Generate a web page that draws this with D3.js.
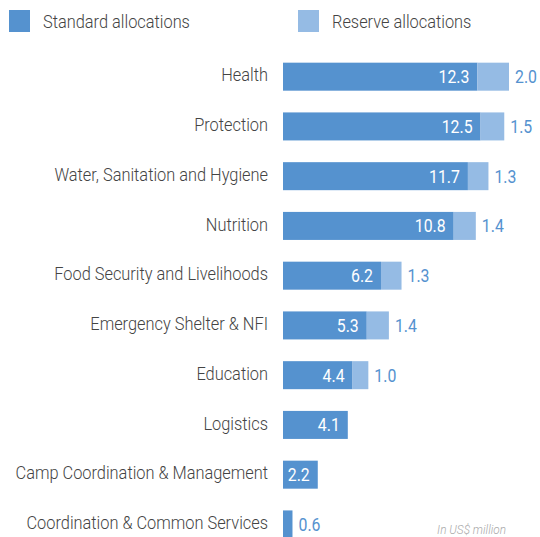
<!DOCTYPE html>
<html>
<head>
<meta charset="utf-8">
<script src="https://cdn.jsdelivr.net/npm/d3@7"></script>
<style>
  body { margin: 0; background: #fff; }
  text { font-family: Roboto, sans-serif; font-weight: 300; }
  text.val { font-weight: 400; }
</style>
</head>
<body>
<script>
// values in US$ million
const categories = [
  "Health",
  "Protection",
  "Water, Sanitation and Hygiene",
  "Nutrition",
  "Food Security and Livelihoods",
  "Emergency Shelter & NFI",
  "Education",
  "Logistics",
  "Camp Coordination & Management",
  "Coordination & Common Services"
];
const standard = [12.3, 12.5, 11.7, 10.8, 6.2, 5.3, 4.4, 4.1, 2.2, 0.6];
const reserve = [2.0, 1.5, 1.3, 1.4, 1.3, 1.4, 1.0, 0, 0, 0];
const seriesNames = ["Standard allocations", "Reserve allocations"];

const width = 540, height = 537;
const blue = "#5592cf", lightBlue = "#95bbe4", grey = "#444";
const squeeze = 0.91; // Roboto squeezed to look condensed

const data = categories.map((c, i) => ({ cat: c, std: standard[i], res: reserve[i] }));

const svg = d3.select("body").append("svg")
  .attr("width", width)
  .attr("height", height);

const x = d3.scaleLinear()
  .domain([0, 14.3])
  .range([283, 509]);

const y = d3.scaleBand()
  .domain(categories)
  .range([51.8, 549.3])
  .paddingInner(0.437)
  .paddingOuter(0.2185);

const at = (tx, ty, k = squeeze) => `translate(${tx},${ty}) scale(${k},1)`;
const mid = d => y(d.cat) + y.bandwidth() / 2;

// legend
const legend = svg.append("g");
const legendX = [9, 298];
seriesNames.forEach((name, i) => {
  legend.append("rect")
    .attr("x", legendX[i])
    .attr("y", 10)
    .attr("width", 21)
    .attr("height", 22)
    .attr("fill", i === 0 ? blue : lightBlue);
  legend.append("text")
    .attr("transform", at(legendX[i] + 34, 28))
    .attr("font-size", 18)
    .attr("fill", grey)
    .text(name);
});

// category labels
svg.append("g").selectAll("text")
  .data(data)
  .join("text")
  .attr("transform", d => at(268, mid(d) - 1.5))
  .attr("dy", "0.35em")
  .attr("text-anchor", "end")
  .attr("font-size", 18)
  .attr("fill", grey)
  .text(d => d.cat);

// standard bars
svg.append("g").selectAll("rect")
  .data(data)
  .join("rect")
  .attr("x", x(0))
  .attr("y", d => y(d.cat))
  .attr("width", d => x(d.std) - x(0))
  .attr("height", y.bandwidth())
  .attr("fill", blue);

// reserve bars
svg.append("g").selectAll("rect")
  .data(data.filter(d => d.res > 0))
  .join("rect")
  .attr("x", d => x(d.std))
  .attr("y", d => y(d.cat))
  .attr("width", d => x(d.std + d.res) - x(d.std))
  .attr("height", y.bandwidth())
  .attr("fill", lightBlue);

// standard value labels (inside bar, or outside when the bar is tiny)
svg.append("g").selectAll("text")
  .data(data)
  .join("text")
  .attr("class", "val")
  .attr("transform", d => at(d.std < 1 ? x(d.std) + 6 : x(d.std) - 8, mid(d), 0.88))
  .attr("dy", "0.36em")
  .attr("text-anchor", d => d.std < 1 ? "start" : "end")
  .attr("font-size", 18)
  .attr("fill", d => d.std < 1 ? blue : "#fff")
  .text(d => d.std.toFixed(1));

// reserve value labels
svg.append("g").selectAll("text")
  .data(data.filter(d => d.res > 0))
  .join("text")
  .attr("class", "val")
  .attr("transform", d => at(x(d.std + d.res) + 6, mid(d), 0.88))
  .attr("dy", "0.36em")
  .attr("font-size", 18)
  .attr("fill", blue)
  .text(d => d.res.toFixed(1));

svg.append("text")
  .attr("transform", at(506, 534))
  .attr("text-anchor", "end")
  .attr("font-size", 13)
  .attr("font-style", "italic")
  .attr("fill", "#aaa")
  .text("In US$ million");
</script>
</body>
</html>
